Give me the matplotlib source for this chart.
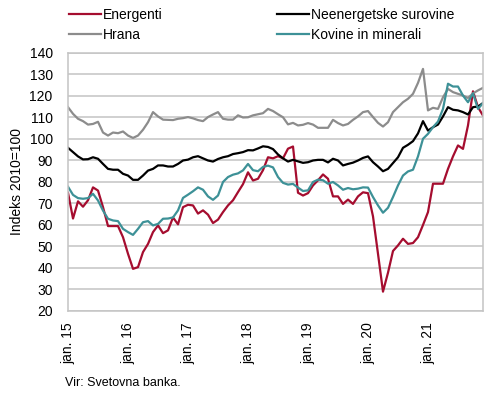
import matplotlib
matplotlib.use("Agg")
from matplotlib import pyplot as plt

plt.rcParams['font.family'] = ['Liberation Sans', 'DejaVu Sans']

# mesecni indeksi, jan. 2015 - dec. 2021 (2010=100)
energenti = [75, 63, 71, 68.5, 71.5, 77.5, 76, 68.3, 59.5, 59.5, 59.5, 54.3,
             46.6, 39.6, 40.4, 47.4, 51.2, 56.7, 59.8, 56.2, 57.5, 63.5, 60.3, 68.3,
             69.4, 69.1, 65.3, 66.8, 64.8, 60.9, 62.5, 66, 69.1, 71.5, 75.3, 79,
             84.5, 80.7, 81.5, 85.5, 91.5, 91, 92, 91, 95.5, 96.5, 75, 73.7,
             74.8, 78.4, 80.8, 83.5, 81.5, 73.3, 73.3, 69.8, 71.8, 69.8, 73.3, 75.2,
             74.8, 64, 46.6, 29, 37.8, 47.9, 50.5, 53.6, 51.2, 51.6, 54.3, 60,
             66, 79.2, 79.2, 79.2, 86.1, 91.9, 97, 95.4, 106.3, 122.2, 114.8, 110.9]

neenergetske = [95.9, 93.9, 91.9, 90.5, 90.6, 91.5, 90.8, 88.4, 86.1, 85.7, 85.7, 83.8,
                83, 81, 81, 83, 85.3, 86.1, 87.7, 87.7, 87.2, 87.2, 88.4, 90,
                90.4, 91.5, 92, 91, 90, 89.5, 90.7, 91.5, 92, 93, 93.4, 93.9,
                94.8, 94.7, 95.6, 96.6, 96.3, 95.3, 92.8, 91, 89.5, 90.3, 89.6, 88.9,
                89.2, 90, 90.3, 90.3, 89.1, 90.8, 90, 87.7, 88.4, 89, 90, 91.2,
                91.9, 89.2, 87.2, 85, 86.1, 88.8, 91.5, 95.9, 97.3, 99, 102.6, 108.3,
                103.9, 105.5, 106.7, 110.5, 114.8, 113.6, 113.3, 112.5, 111.4, 114.8, 115.1, 116.7]

hrana = [114.8, 111.7, 109.4, 108.3, 106.7, 107, 108, 103, 101.6, 103, 102.7, 103.5,
         101.6, 100.5, 101.6, 104.3, 107.8, 112.5, 110.5, 109, 108.9, 108.8, 109.4, 109.7,
         110.2, 109.6, 108.8, 108.3, 110.2, 111.4, 112.5, 109.4, 109, 109, 111, 110,
         110.1, 111, 111.5, 112, 114, 113, 111.5, 110.1, 106.8, 107.5, 106.3, 106.6,
         107.4, 106.7, 105.2, 105.2, 105.2, 108.9, 107.4, 106.3, 107, 108.9, 110.5, 112.5,
         113, 110.2, 107.5, 105.8, 107.8, 112.5, 114.8, 117.1, 118.7, 121, 126.1, 132.6,
         113.3, 114.5, 114, 119.4, 123.3, 121.8, 121, 120.2, 119.1, 121.2, 122.6, 123.8]

kovine = [77.8, 74, 72.5, 72.2, 72.5, 74.5, 71.4, 66.7, 62.9, 62.1, 61.8, 58.2,
          56.7, 55.4, 58.2, 61.3, 61.8, 59.8, 60.5, 62.9, 63, 63.5, 66.8, 72.6,
          74.1, 75.7, 77.5, 76.4, 73.3, 71.7, 73.7, 80, 82.3, 83.4, 84, 85.4,
          88.4, 85.5, 85, 87, 87.6, 86.8, 82.3, 79.6, 78.8, 79.1, 77.4, 75.8,
          76.1, 80, 81.1, 80.8, 79.2, 80, 78.4, 76.4, 77.2, 76.6, 76.9, 77.5,
          77.4, 73, 69.1, 65.7, 68, 73, 78.4, 83, 84.9, 85.7, 91.9, 100.1,
          102.4, 105.5, 108.1, 114, 125.7, 124.4, 124.4, 120.2, 117.1, 121.2, 114, 116.7]

tick_labels = ['jan. 15', 'jan. 16', 'jan. 17', 'jan. 18', 'jan. 19', 'jan. 20', 'jan. 21']

x = list(range(len(energenti)))

fig = plt.figure(figsize=(4.9, 3.94), dpi=100)
ax = fig.add_axes([0.1388, 0.2107, 0.8469, 0.6548])

ax.plot(x, energenti, color='#a50d2f', lw=1.6, label='Energenti')
ax.plot(x, hrana, color='#8c8c8c', lw=1.6, label='Hrana')
ax.plot(x, neenergetske, color='black', lw=1.6, label='Neenergetske surovine')
ax.plot(x, kovine, color='#3d9197', lw=1.6, label='Kovine in minerali')

ax.set_xlim(0, len(x) - 1)
ax.set_ylim(20, 140)
ax.set_yticks(range(20, 141, 10))
ax.set_xticks(range(0, 73, 12))
ax.set_xticklabels(tick_labels, rotation=90)
ax.tick_params(length=0, labelsize=10)
ax.tick_params(axis='y', pad=11)
ax.tick_params(axis='x', pad=8)
ax.grid(axis='y', color='#c4c4c4', lw=1.1)
ax.set_axisbelow(True)
for s in ax.spines.values():
    s.set_color('#c4c4c4')
    s.set_linewidth(1.1)

ax.set_ylabel('Indeks 2010=100', fontsize=10, labelpad=4)

handles, labels = ax.get_legend_handles_labels()
fig.legend(handles, labels, loc='upper left', bbox_to_anchor=(0.13, 0.995), ncol=2,
           frameon=False, fontsize=10, handlelength=2.3, handletextpad=0.15,
           columnspacing=8.2, labelspacing=0.45, borderaxespad=0)

fig.text(0.133, 0.02, 'Vir: Svetovna banka.', fontsize=9)

fig.savefig('out.png', dpi=100)
